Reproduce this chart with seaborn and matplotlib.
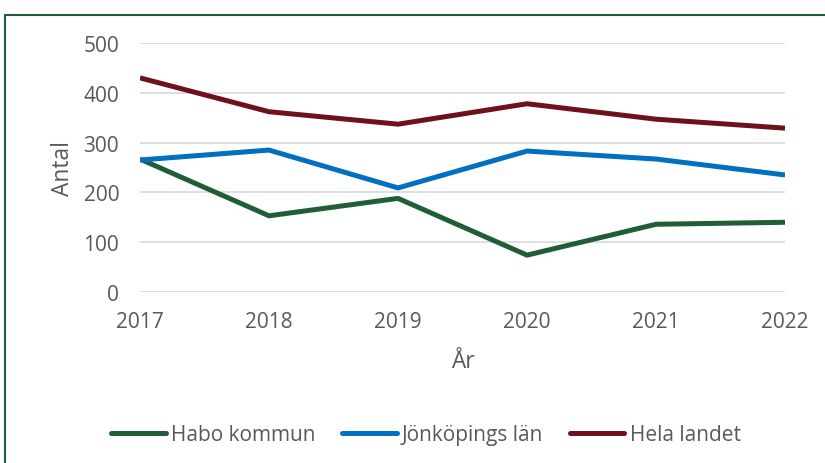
import numpy as np
import pandas as pd
import seaborn as sns
import matplotlib.pyplot as plt
from matplotlib.patches import Rectangle

years = [2017, 2018, 2019, 2020, 2021, 2022]
habo = [267, 153, 188, 74, 136, 140]
jonkoping = [265, 285, 209, 283, 267, 235]
hela_landet = [430, 362, 337, 378, 347, 329]
series_names = ['Habo kommun', 'Jönköpings län', 'Hela landet']
colors = ['#215E38', '#0070C0', '#6F111B']
yticks = [0, 100, 200, 300, 400, 500]

df = pd.DataFrame({'År': years * 3,
                   'Antal': habo + jonkoping + hela_landet,
                   'Serie': np.repeat(series_names, len(years))})

sns.set_style('white')
plt.rcParams['font.family'] = ['Open Sans', 'DejaVu Sans']

fig = plt.figure(figsize=(8.25, 4.64), dpi=100)
ax = fig.add_axes([140 / 825, 1 - 293 / 464, 645 / 825, 249 / 464])

sns.lineplot(data=df, x='År', y='Antal', hue='Serie', palette=colors,
             hue_order=series_names, linewidth=3.6, ax=ax, legend=False,
             solid_capstyle='butt')

ax.set_xlim(2017, 2022)
ax.set_ylim(0, 500)
ax.set_yticks(yticks)
ax.set_xticks(years)
ax.grid(axis='y', color='#D9D9D9', linewidth=1.2)
ax.set_axisbelow(True)
for s in ax.spines.values():
    s.set_visible(False)
ax.tick_params(axis='both', length=0, labelsize=15, labelcolor='#595959')
ax.tick_params(axis='y', pad=15)
ax.tick_params(axis='x', pad=14)
ax.set_xlabel('År', fontsize=16.4, color='#595959', labelpad=12)
ax.set_ylabel('Antal', fontsize=16.4, color='#595959', labelpad=6)

handles = [plt.Line2D([], [], color=c, linewidth=3.6, solid_capstyle='round') for c in colors]
fig.legend(handles, series_names, loc='center', bbox_to_anchor=(426 / 825, 1 - 436 / 464),
           ncol=3, frameon=False, fontsize=15, labelcolor='#595959',
           handlelength=2.6, handletextpad=0.25, columnspacing=1.3)

fig.patches.append(Rectangle((5 / 825, -0.05), 1.1, 1 - 16 / 464 + 0.05, transform=fig.transFigure,
                             fill=False, edgecolor='#215E38', linewidth=1.5))

plt.savefig('out.png', dpi=100)
